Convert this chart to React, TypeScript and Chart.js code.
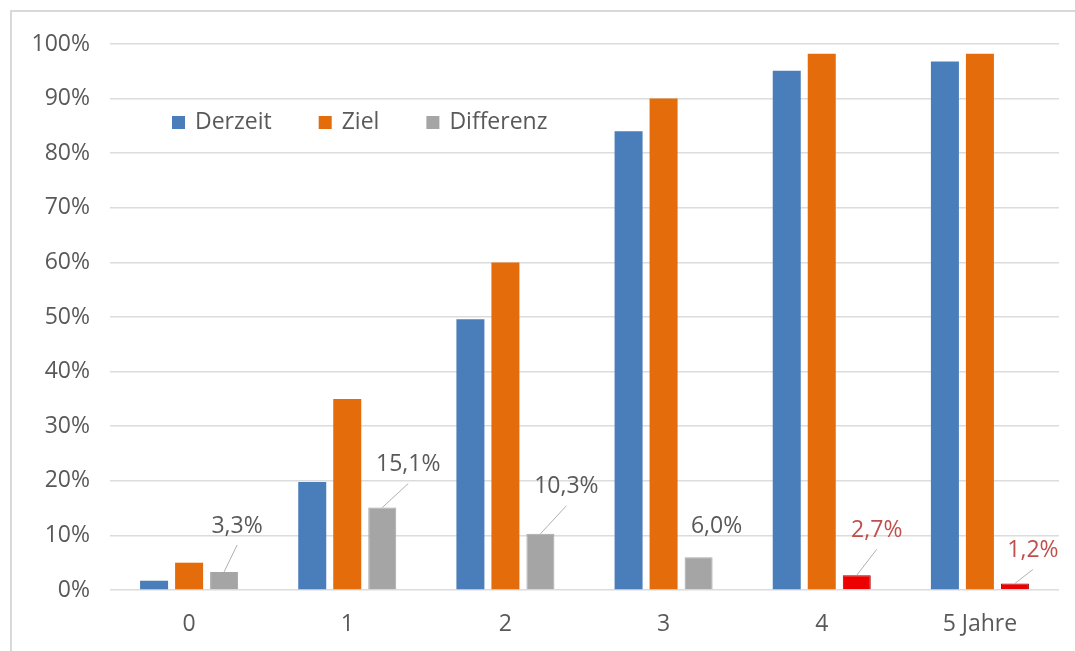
import React, { useEffect, useRef } from "react";
import { Chart, registerables } from "chart.js";

Chart.register(...registerables);

// ---- data ----
const categories = ["0", "1", "2", "3", "4", "5 Jahre"];
const derzeit = [1.7, 19.8, 49.6, 84.0, 95.1, 96.8];
const ziel = [5.0, 35.0, 60.0, 90.0, 98.2, 98.2];
const differenz = [3.3, 15.1, 10.3, 6.0, 2.7, 1.2];
const differenzLabels = ["3,3%", "15,1%", "10,3%", "6,0%", "2,7%", "1,2%"];
const differenzHighlight = [false, false, false, false, true, true];
const seriesNames = ["Derzeit", "Ziel", "Differenz"];
const yMax = 100;
const yStep = 10;

// ---- styling ----
const FONT = "'Open Sans', sans-serif";
const TEXT = "#595959";
const BLUE = "#4a7ebb";
const ORANGE = "#e46c0a";
const GRAY = "#a5a5a5";
const RED = "#ec0000";
const RED_TEXT = "#c0504d";
// label offset from top-centre of the Differenz bar: [dx, dy, leaderLine]
const labelOffsets: [number, number, boolean][] = [
  [13, -46, true],
  [26, -43, true],
  [26, -47, true],
  [18, -31, false],
  [20, -45, true],
  [18, -33, true],
];

const labelPlugin = {
  id: "diffLabels",
  afterDatasetsDraw(chart: any) {
    const ctx = chart.ctx;
    const meta = chart.getDatasetMeta(2);
    ctx.save();
    ctx.font = `23px ${FONT}`;
    ctx.textAlign = "center";
    ctx.textBaseline = "middle";
    meta.data.forEach((bar: any, i: number) => {
      const [dx, dy, line] = labelOffsets[i];
      const tx = bar.x + dx;
      const ty = bar.y + dy;
      if (line) {
        ctx.strokeStyle = "#b0b0b0";
        ctx.lineWidth = 1;
        ctx.beginPath();
        ctx.moveTo(bar.x, bar.y);
        ctx.lineTo(tx, ty + 19);
        ctx.stroke();
      }
      ctx.fillStyle = differenzHighlight[i] ? RED_TEXT : TEXT;
      ctx.fillText(differenzLabels[i], tx, ty);
    });
    ctx.restore();
  },
};

const legendPlugin = {
  id: "innerLegend",
  afterDraw(chart: any) {
    const ctx = chart.ctx;
    const area = chart.chartArea;
    const colors = [BLUE, ORANGE, GRAY];
    let x = area.left + 62;
    const cy = area.top + 78;
    ctx.save();
    ctx.font = `23px ${FONT}`;
    ctx.textBaseline = "middle";
    ctx.textAlign = "left";
    seriesNames.forEach((name, i) => {
      ctx.fillStyle = colors[i];
      ctx.fillRect(x, cy - 6, 13, 13);
      ctx.fillStyle = TEXT;
      ctx.fillText(name, x + 23, cy);
      x += 23 + ctx.measureText(name).width + 47;
    });
    ctx.restore();
  },
};

export default function App() {
  const ref = useRef<HTMLCanvasElement>(null);

  useEffect(() => {
    document.body.style.margin = "0";
    const diffColors = differenzHighlight.map((h) => (h ? RED : GRAY));
    const diffBorders = differenzHighlight.map((h) => (h ? "#a00000" : GRAY));
    const chart = new Chart(ref.current!, {
      type: "bar",
      data: {
        labels: categories,
        datasets: [
          { label: seriesNames[0], data: derzeit, backgroundColor: BLUE },
          { label: seriesNames[1], data: ziel, backgroundColor: ORANGE },
          {
            label: seriesNames[2],
            data: differenz,
            backgroundColor: diffColors,
            borderColor: diffBorders,
            borderWidth: 1,
          },
        ],
      },
      options: {
        animation: false,
        responsive: false,
        maintainAspectRatio: false,
        layout: { padding: { top: 44, right: 16, bottom: 0, left: 0 } },
        datasets: { bar: { categoryPercentage: 0.664, barPercentage: 0.8 } },
        plugins: { legend: { display: false }, tooltip: { enabled: false } },
        scales: {
          x: {
            grid: { display: false, drawTicks: false },
            border: { display: false },
            ticks: { color: TEXT, font: { family: FONT, size: 23 }, padding: 21 },
            afterFit: (s: any) => {
              s.height = 61;
            },
          },
          y: {
            min: 0,
            max: yMax,
            grid: { color: "#dcdcdc", lineWidth: 1.5, drawTicks: false },
            border: { display: false },
            ticks: {
              stepSize: yStep,
              color: TEXT,
              font: { family: FONT, size: 23 },
              padding: 20,
              callback: (v: any) => `${v}%`,
            },
            afterFit: (s: any) => {
              s.width = 110;
            },
          },
        },
      },
      plugins: [labelPlugin, legendPlugin],
    });
    return () => chart.destroy();
  }, []);

  return (
    <div style={{ position: "relative", width: 1075, height: 651, background: "#fff", overflow: "hidden" }}>
      <div
        style={{
          position: "absolute",
          left: 10,
          top: 10,
          width: 1075,
          height: 651,
          borderLeft: "2px solid #d9d9d9",
          borderTop: "2px solid #d9d9d9",
        }}
      />
      <canvas ref={ref} width={1075} height={651} style={{ position: "absolute", left: 0, top: 0 }} />
    </div>
  );
}
